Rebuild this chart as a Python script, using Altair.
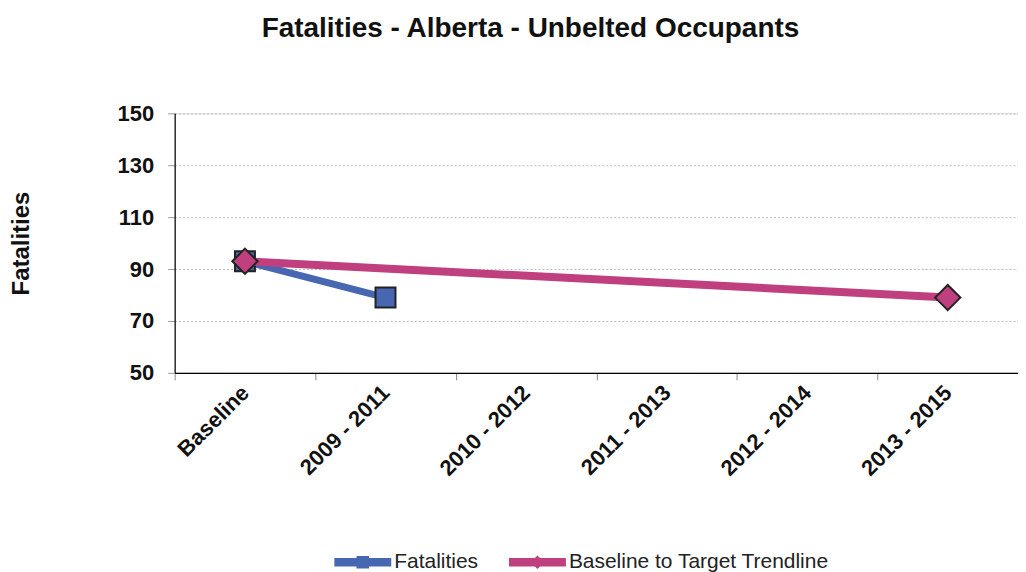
import altair as alt
import pandas as pd

categories = ["Baseline", "2009 - 2011", "2010 - 2012", "2011 - 2013", "2012 - 2014", "2013 - 2015"]
fatalities = [93, 79, None, None, None, None]
trendline = [93, None, None, None, None, 79]
series_names = ["Fatalities", "Baseline to Target Trendline"]
series_colors = ["#4767B1", "#BF3F7F"]
legend_paths = [
    "M-1,-0.15H1V0.15H-1Z M-0.22,-0.22H0.22V0.22H-0.22Z",
    "M-1,-0.15H1V0.15H-1Z M0,-0.24L0.24,0L0,0.24L-0.24,0Z",
]

rows = []
for c, v in zip(categories, fatalities):
    if v is not None:
        rows.append({"cat": c, "value": v, "series": series_names[0]})
for c, v in zip(categories, trendline):
    if v is not None:
        rows.append({"cat": c, "value": v, "series": series_names[1]})
df = pd.DataFrame(rows)

FONT = "Liberation Sans"

x_enc = alt.X("cat:N", sort=categories, scale=alt.Scale(domain=categories, paddingInner=0, paddingOuter=0),
              axis=alt.Axis(title=None, labelAngle=-45, labelFont=FONT, labelFontSize=22, labelFontWeight="bold",
                            labelColor="#111", labelPadding=9, tickBand="extent", tickSize=7, tickColor="#888",
                            domainColor="#000", domainWidth=1.2, grid=False, labelAlign="right",
                            labelBaseline="middle"))
y_enc = alt.Y("value:Q", scale=alt.Scale(domain=[50, 150], nice=False, zero=False),
              axis=alt.Axis(values=[50, 70, 90, 110, 130, 150], title="Fatalities", titleFont=FONT,
                            titleFontSize=24, titleFontWeight="bold", titleColor="#111",
                            titleAngle=-90, titleX=-153, titleY=130, titleAlign="center", titleBaseline="middle",
                            labelFont=FONT, labelFontSize=22, labelFontWeight="bold", labelColor="#111",
                            labelPadding=14, tickSize=7, tickColor="#999", domainColor="#000", domainWidth=1.2,
                            grid=True, gridColor="#bbbbbb", gridDash=[2, 2], gridWidth=1))

base = alt.Chart(df)

blue = alt.datum.series == series_names[0]
pink = alt.datum.series == series_names[1]

line_blue = base.transform_filter(blue).mark_line(color=series_colors[0], strokeWidth=7).encode(x=x_enc, y=y_enc)
pt_blue = base.transform_filter(blue).mark_point(shape="square", size=400, filled=True, fill=series_colors[0],
                                                 stroke="#222", strokeWidth=2, opacity=1).encode(x=x_enc, y=y_enc)
line_pink = base.transform_filter(pink).mark_line(color=series_colors[1], strokeWidth=8).encode(x=x_enc, y=y_enc)
pt_pink = base.transform_filter(pink).mark_point(shape="diamond", size=640, filled=True, fill=series_colors[1],
                                                 stroke="#222", strokeWidth=2, opacity=1).encode(x=x_enc, y=y_enc)

legend_layer = base.mark_point(filled=True, opacity=0).encode(
    x=x_enc, y=y_enc,
    color=alt.Color("series:N", scale=alt.Scale(domain=series_names, range=series_colors),
                    legend=alt.Legend(title=None, orient="none", legendX=160, legendY=421, direction="horizontal",
                                      symbolSize=3249, symbolStrokeWidth=0, symbolOpacity=1,
                                      labelFont=FONT, labelFontSize=21, labelColor="#222", labelOffset=3,
                                      columnPadding=30, labelLimit=400)),
    shape=alt.Shape("series:N", scale=alt.Scale(domain=series_names, range=legend_paths), legend=None),
)

chart = alt.layer(line_blue, pt_blue, line_pink, pt_pink, legend_layer).properties(
    width=845, height=260,
    title=alt.TitleParams("Fatalities - Alberta - Unbelted Occupants", font=FONT, fontSize=28, fontWeight="bold",
                          color="#111", anchor="middle", dx=-66, offset=60),
    autosize=alt.AutoSizeParams(type="none"),
    padding={"left": 167, "top": 105, "right": 0, "bottom": 199},
).configure_view(stroke=None).configure(background="white")

chart.save("out.html", embed_options={"renderer": "svg", "actions": False})
